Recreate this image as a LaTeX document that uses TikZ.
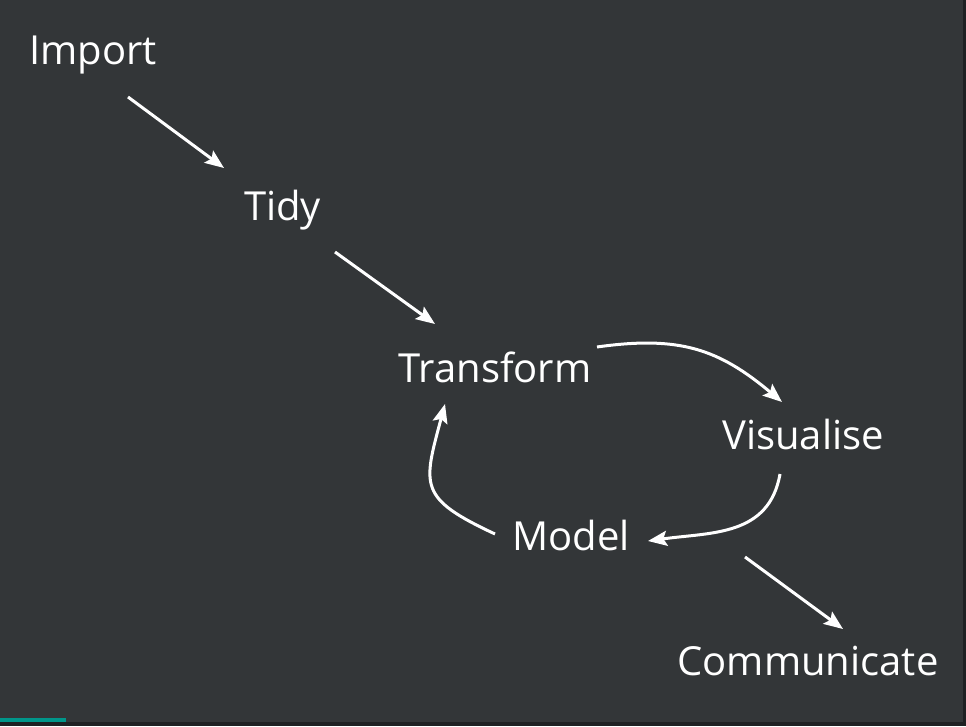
\documentclass[tikz,border=0pt]{standalone}
\usepackage{fontspec}
\setmainfont{Open Sans}
\usetikzlibrary{arrows.meta}
\definecolor{slate}{HTML}{333638}
\definecolor{rim}{HTML}{1F2123}
\definecolor{tealbar}{HTML}{00968A}

\begin{document}
\begin{tikzpicture}[x=1pt,y=1pt,
    stage/.style={text=white,font=\fontsize{40}{48}\selectfont,inner sep=0pt,anchor=base},
    flow/.style={white,line width=3pt,-{Stealth[length=19pt,width=15pt,inset=3.5pt]}}]

  % slide background
  \fill[rim] (0,0) rectangle (966,726);
  \fill[slate] (0,4) rectangle (963,726);
  \fill[tealbar] (0,4) rectangle (66,8);
  \useasboundingbox (0,0) rectangle (966,726);

  \node[stage] (import)      at (93,661)    {Import};
  \node[stage] (tidy)        at (282.5,505) {Tidy};
  \node[stage] (transform)   at (495,343)   {Transform};
  \node[stage] (visualise)   at (803,276)   {Visualise};
  \node[stage] (model)       at (571,176)   {Model};
  \node[stage] (communicate) at (808,51)    {Communicate};

  \draw[flow] ([shift={(35,-32)}]import.base) -- ([shift={(-58.5,53)}]tidy.base);
  \draw[flow] ([shift={(52.5,-31)}]tidy.base) -- ([shift={(-60,59)}]transform.base);
  % the loop
  \draw[flow] ([shift={(102,36)}]transform.base) to[out=8,in=140,looseness=1.1]
              ([shift={(-21,48)}]visualise.base);
  \draw[flow] ([shift={(-23,-24)}]visualise.base) to[out=-100,in=8,looseness=1.1]
              ([shift={(77,9)}]model.base);
  \draw[flow] ([shift={(-76,16)}]model.base) to[out=155,in=-105,looseness=1.56]
              ([shift={(-50,-21)}]transform.base);
  \draw[flow] ([shift={(174,-7)}]model.base) -- ([shift={(35,46)}]communicate.base);
\end{tikzpicture}
\end{document}
